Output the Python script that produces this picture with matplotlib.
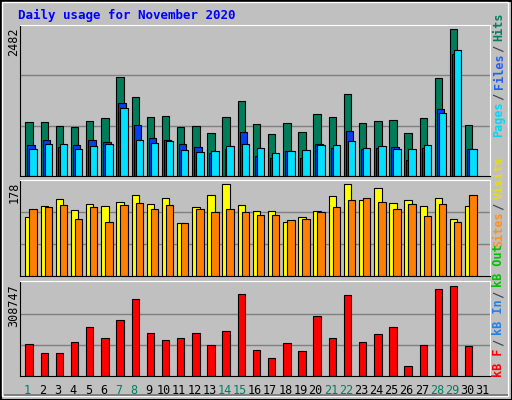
import matplotlib
matplotlib.use("Agg")
import matplotlib.pyplot as plt
from matplotlib.patches import Rectangle
import numpy as np

days = [str(d) for d in range(1, 32)]
weekend_days = [1, 7, 8, 14, 15, 21, 22, 28, 29]
hits = [889, 889, 824, 807, 906, 955, 1626, 1298, 971, 987, 807, 824, 709, 971, 1233,
        856, 693, 873, 726, 1020, 971, 1347, 873, 906, 922, 709, 955, 1609, 2411, 840]
files = [513, 595, 480, 513, 595, 562, 1200, 840, 627, 595, 529, 480, 382, 447, 726,
         333, 300, 415, 300, 529, 464, 742, 447, 464, 480, 267, 464, 1102, 2002, 447]
pages = [447, 529, 529, 447, 496, 529, 1118, 595, 546, 578, 431, 398, 415, 496, 529,
         464, 382, 415, 431, 513, 513, 578, 464, 496, 447, 447, 513, 1036, 2067, 447]
visits = [110, 130, 143, 123, 134, 130, 138, 151, 134, 145, 99, 128, 151, 171, 132,
          121, 121, 100, 110, 121, 149, 171, 141, 164, 136, 140, 130, 145, 106, 130]
sites = [125, 128, 132, 106, 128, 100, 132, 136, 125, 132, 99, 125, 119, 125, 119,
         113, 113, 104, 106, 119, 128, 140, 145, 138, 125, 134, 112, 134, 100, 151]
kbytes = [105, 76, 76, 112, 161, 125, 184, 255, 141, 118, 125, 141, 102, 148, 272,
          86, 60, 109, 83, 200, 125, 268, 112, 138, 164, 34, 102, 288, 298, 99]
kbytes = [v * 1000 for v in kbytes]
max_hits, max_visits, max_kb = 2482, 178, 308747

W, H = 512, 400
fig = plt.figure(figsize=(W / 100, H / 100), dpi=100)
fig.patch.set_facecolor("#c0c0c0")
fig.add_artist(Rectangle((0.5 / W, 0.5 / H), (W - 1) / W, (H - 1) / H, transform=fig.transFigure,
                         fill=False, ec="black", lw=1.5))
fig.add_artist(Rectangle((2 / W, 4 / H), (W - 6) / W, (H - 6) / H, transform=fig.transFigure,
                         fill=False, ec="white", lw=1))
fig.add_artist(Rectangle((4 / W, 4 / H), (W - 8) / W, 2 / H, transform=fig.transFigure,
                         fill=True, color="#808080", lw=0))

mono = "DejaVu Sans Mono"
x = np.arange(len(hits))
bw = 0.49


def mkax(ytop, ybot):
    ax = fig.add_axes([20 / W, (H - ybot) / H, 470 / W, (ybot - ytop) / H])
    ax.set_facecolor("#c0c0c0")
    ax.set_xlim(0, 31)
    ax.set_xticks([])
    ax.set_yticks([])
    for s in ["left", "bottom"]:
        ax.spines[s].set_color("black")
    for s in ["top", "right"]:
        ax.spines[s].set_color("white")
    return ax


def grid(ax, m):
    for f in (1 / 3, 2 / 3):
        ax.axhline(m * f, color="#808080", lw=1, zorder=0)


ax1 = mkax(25, 176)
ax1.set_ylim(0, max_hits)
grid(ax1, max_hits)
ax1.bar(x + 0.355, hits, bw, align="edge", color="#007c5a", ec="black", lw=0.8)
ax1.bar(x + 0.49, files, bw, align="edge", color="#0040f0", ec="black", lw=0.8)
ax1.bar(x + 0.62, pages, bw, align="edge", color="#00e0ff", ec="black", lw=0.8)

ax2 = mkax(180, 276)
ax2.set_ylim(0, max_visits)
grid(ax2, max_visits)
ax2.bar(x + 0.355, visits, bw, align="edge", color="#ffff00", ec="black", lw=0.8)
ax2.bar(x + 0.62, sites, bw, align="edge", color="#ff8000", ec="black", lw=0.8)

ax3 = mkax(281, 376)
ax3.set_ylim(0, max_kb * 1.02)
grid(ax3, max_kb)
ax3.bar(x + 0.355, kbytes, bw, align="edge", color="#ff0000", ec="black", lw=0.8)
ax3.set_xticks(np.arange(len(days)) + 0.5)
ax3.set_xticklabels(days, fontsize=8.5, family=mono)
ax3.tick_params(axis="x", length=0, pad=6)
for i, lab in enumerate(ax3.get_xticklabels()):
    lab.set_color("#008060" if (i + 1) in weekend_days else "black")

fig.text(18 / W, 1 - 15 / H, "Daily usage for November 2020", color="#0000ff", family=mono,
         fontweight="bold", fontsize=9, va="center")

for txt, ytop in (("2482", 28), ("178", 182), ("308747", 284)):
    fig.text(14 / W, 1 - ytop / H, txt, rotation=90, family=mono, fontsize=8.5,
             ha="center", va="top")


def side(parts, ybot):
    y = ybot
    cw = 6.0
    for t, c in parts:
        fig.text(499 / W, 1 - y / H, t, rotation=90, family=mono, fontsize=8.5,
                 color=c, ha="center", va="bottom", fontweight="bold")
        y -= cw * len(t)


side([("Pages", "#00d8f8"), (" / ", "#404040"), ("Files", "#2060f0"), (" / ", "#404040"),
      ("Hits", "#008060")], 137)
side([("Sites", "#ff9020"), (" / ", "#404040"), ("Visits", "#e8e000")], 247)
side([("kB F", "#ff0000"), (" / ", "#404040"), ("kB In", "#2080f0"), (" / ", "#404040"),
      ("kB Out", "#00c000")], 377)

fig.savefig("out.png", dpi=100, facecolor=fig.get_facecolor())
